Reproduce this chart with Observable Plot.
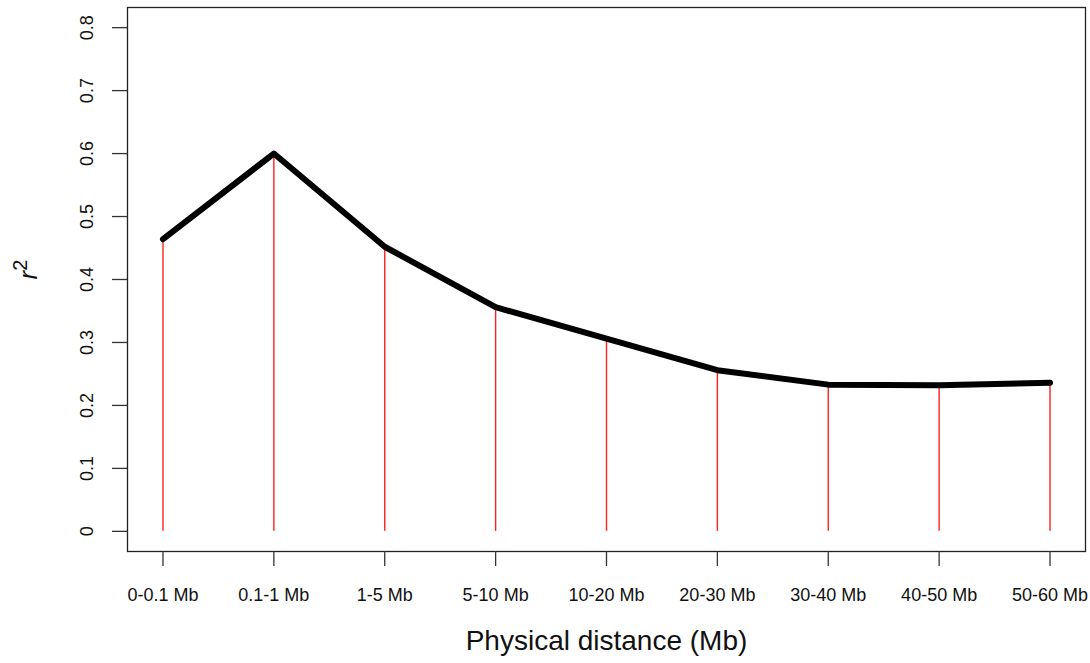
<!DOCTYPE html>
<html>
<head>
<meta charset="utf-8">
<script src="https://cdn.jsdelivr.net/npm/d3@7"></script>
<script src="https://cdn.jsdelivr.net/npm/@observablehq/plot@0.6"></script>
<style>
  html, body { margin: 0; padding: 0; background: #fff; }
</style>
</head>
<body>
<div id="chart"></div>
<script>
const categories = ["0-0.1 Mb", "0.1-1 Mb", "1-5 Mb", "5-10 Mb", "10-20 Mb", "20-30 Mb", "30-40 Mb", "40-50 Mb", "50-60 Mb"];
const r2Values = [0.464, 0.600, 0.452, 0.356, 0.306, 0.256, 0.233, 0.232, 0.236];
const yTicks = [0, 0.1, 0.2, 0.3, 0.4, 0.5, 0.6, 0.7, 0.8];
const xTitle = "Physical distance (Mb)";
const yTitleBase = "r";
const yTitleSup = "2";

const data = categories.map((c, i) => ({cat: c, r2: r2Values[i]}));

const chart = Plot.plot({
  width: 1090,
  height: 663,
  marginLeft: 127,
  marginRight: 5,
  marginTop: 7,
  marginBottom: 112,
  style: {fontFamily: "'Liberation Sans', Arial, sans-serif", background: "#fff", color: "#111"},
  x: {type: "point", domain: categories, padding: 0.32, round: false},
  y: {domain: [-0.032, 0.832]},
  marks: [
    Plot.ruleX(data, {x: "cat", y1: 0, y2: "r2", stroke: "#ff2020", strokeWidth: 1.4}),
    Plot.line(data, {x: "cat", y: "r2", stroke: "black", strokeWidth: 6, strokeLinejoin: "round", strokeLinecap: "round"}),
    Plot.frame({stroke: "#222", strokeWidth: 1.3}),
    Plot.axisY({ticks: yTicks, tickFormat: d => String(d), tickSize: 15, tickPadding: 20, tickRotate: -90, fontSize: 18, stroke: "#333", strokeWidth: 1.3, label: null}),
    Plot.axisX({tickSize: 15, tickPadding: 22, fontSize: 18, stroke: "#333", strokeWidth: 1.3, label: null}),
    Plot.text([xTitle], {frameAnchor: "bottom", dy: 98, fontSize: 28, fill: "#111"}),
    Plot.text([yTitleBase + yTitleSup], {frameAnchor: "left", dx: -99, rotate: -90, fontSize: 26, fontStyle: "italic", fill: "#111", className: "ytitle"})
  ]
});
document.getElementById("chart").appendChild(chart);

// render the superscript as a real raised "2"
const t = d3.select(chart).select("g.ytitle text");
t.text(null);
t.append("tspan").text(yTitleBase);
t.append("tspan").text(yTitleSup).attr("dy", "-0.5em").attr("font-size", 20).attr("font-style", "normal");
</script>
</body>
</html>
